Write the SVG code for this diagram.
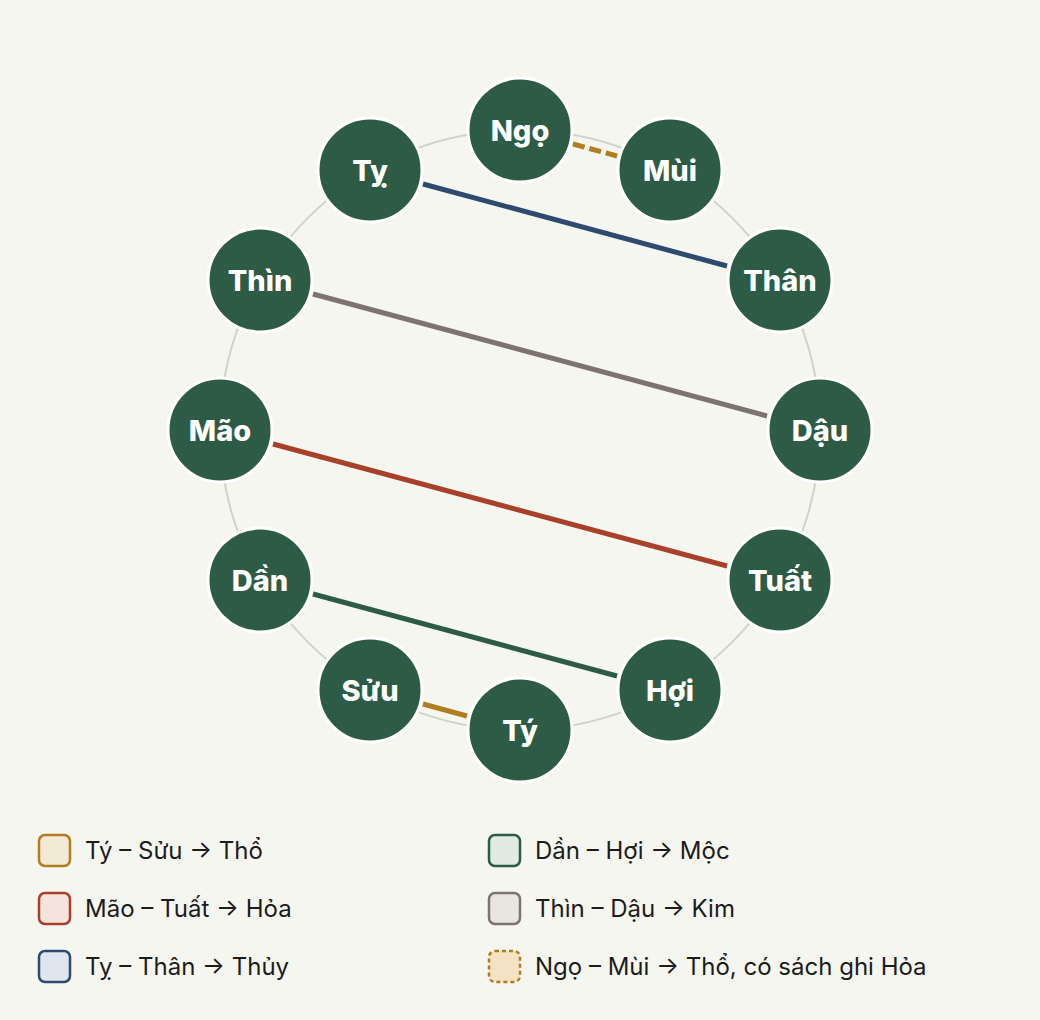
<svg xmlns="http://www.w3.org/2000/svg" width="1040" height="1020" viewBox="0 0 1040 1020">
<style>
.bg{fill:#f6f6f1}
.ring{fill:none;stroke:#cfd4c6;stroke-width:2}
.node circle{fill:#2d5b46;stroke:#ffffff;stroke-width:3}
.node text{fill:#ffffff;font-family:Inter,"Noto Sans",sans-serif;font-weight:800;font-size:29px;text-anchor:middle}
.link{fill:none;stroke-width:5}
.lg rect{stroke-width:2.5}
.lg text{fill:#1c1c1a;font-family:Inter,"Noto Sans",sans-serif;font-size:24px}
</style>
<rect class="bg" x="0" y="0" width="1040" height="1020"/>
<circle class="ring" cx="520" cy="430" r="300"/>
<g id="connectors">
<line class="link" x1="573" y1="144" x2="617" y2="156" stroke="#b07d20" stroke-dasharray="12 5"/>
<line class="link" x1="423" y1="184" x2="727" y2="266" stroke="#2e4a6e"/>
<line class="link" x1="313" y1="294" x2="767" y2="416" stroke="#7d7470"/>
<line class="link" x1="273" y1="444" x2="727" y2="566" stroke="#a8402a"/>
<line class="link" x1="313" y1="594" x2="617" y2="676" stroke="#2d5b46"/>
<line class="link" x1="423" y1="704" x2="467" y2="716" stroke="#b07d20"/>
</g>
<g id="node-ngo" class="node"><circle cx="520" cy="130" r="52"/><text x="520" y="141">Ngọ</text></g>
<g id="node-mui" class="node"><circle cx="670" cy="170" r="52"/><text x="670" y="181">Mùi</text></g>
<g id="node-than" class="node"><circle cx="780" cy="280" r="52"/><text x="780" y="291">Thân</text></g>
<g id="node-dau" class="node"><circle cx="820" cy="430" r="52"/><text x="820" y="441">Dậu</text></g>
<g id="node-tuat" class="node"><circle cx="780" cy="580" r="52"/><text x="780" y="591">Tuất</text></g>
<g id="node-hoi" class="node"><circle cx="670" cy="690" r="52"/><text x="670" y="701">Hợi</text></g>
<g id="node-ty-zi" class="node"><circle cx="520" cy="730" r="52"/><text x="520" y="741">Tý</text></g>
<g id="node-suu" class="node"><circle cx="370" cy="690" r="52"/><text x="370" y="701">Sửu</text></g>
<g id="node-dan" class="node"><circle cx="260" cy="580" r="52"/><text x="260" y="591">Dần</text></g>
<g id="node-mao" class="node"><circle cx="220" cy="430" r="52"/><text x="220" y="441">Mão</text></g>
<g id="node-thin" class="node"><circle cx="260" cy="280" r="52"/><text x="260" y="291">Thìn</text></g>
<g id="node-ty-si" class="node"><circle cx="370" cy="170" r="52"/><text x="370" y="181">Tỵ</text></g>
<g id="legend" class="lg">
<rect x="39" y="835" width="31" height="31" rx="6" fill="#f3ead6" stroke="#b07d20"/>
<text x="85" y="859">Tý – Sửu → Thổ</text>
<rect x="39" y="893" width="31" height="31" rx="6" fill="#f5e3de" stroke="#a8402a"/>
<text x="85" y="917">Mão – Tuất → Hỏa</text>
<rect x="39" y="951" width="31" height="31" rx="6" fill="#e0e6ef" stroke="#2e4a6e"/>
<text x="85" y="975">Tỵ – Thân → Thủy</text>
<rect x="489" y="835" width="31" height="31" rx="6" fill="#e1ebe4" stroke="#2d5b46"/>
<text x="535" y="859">Dần – Hợi → Mộc</text>
<rect x="489" y="893" width="31" height="31" rx="6" fill="#e9e6e2" stroke="#7d7470"/>
<text x="535" y="917">Thìn – Dậu → Kim</text>
<rect x="489" y="951" width="31" height="31" rx="6" fill="#f3e3c4" stroke="#b07d20" stroke-dasharray="4 3"/>
<text x="535" y="975">Ngọ – Mùi → Thổ, có sách ghi Hỏa</text>
</g>
</svg>
